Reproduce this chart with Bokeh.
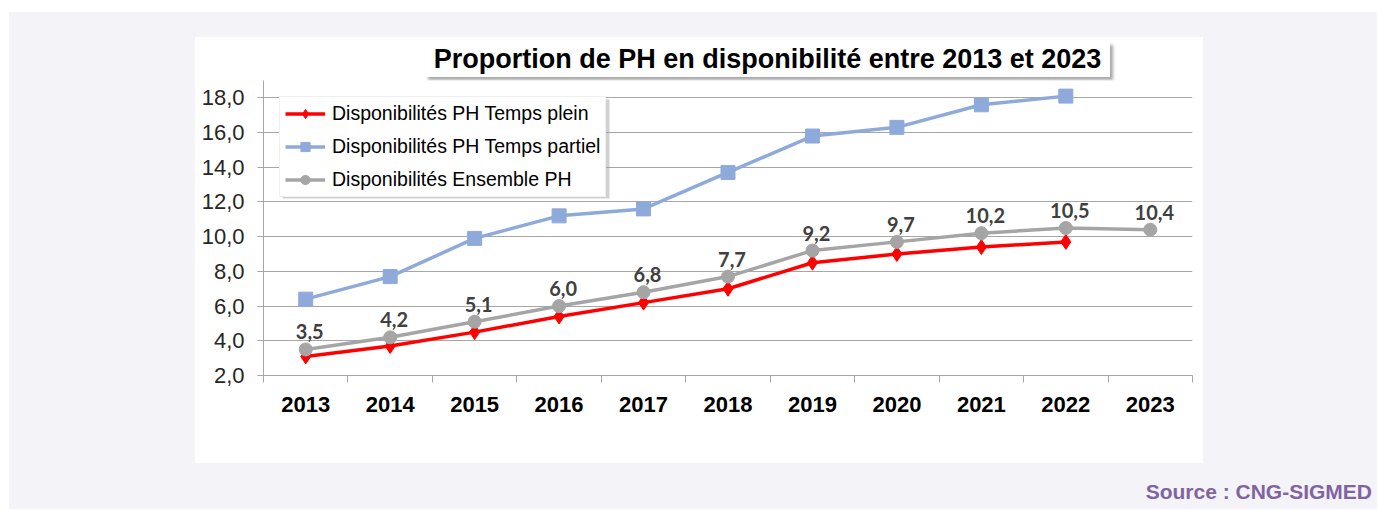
from bokeh.plotting import figure
from bokeh.models import (Range1d, FixedTicker, ColumnDataSource, Legend, LegendItem,
                          LabelSet, Spacer, Div, BoxAnnotation)
from bokeh.layouts import column, row
from bokeh.core.properties import value
from bokeh.embed import file_html
from bokeh.resources import INLINE

NaN = float("nan")

# ---------------- data ----------------
years = [2013, 2014, 2015, 2016, 2017, 2018, 2019, 2020, 2021, 2022, 2023]
temps_plein = [3.1, 3.7, 4.5, 5.4, 6.2, 7.0, 8.5, 9.0, 9.4, 9.7, NaN]
temps_partiel = [6.4, 7.7, 9.9, 11.2, 11.6, 13.7, 15.8, 16.3, 17.6, 18.1, NaN]
ensemble = [3.5, 4.2, 5.1, 6.0, 6.8, 7.7, 9.2, 9.7, 10.2, 10.5, 10.4]
y_ticks = [2, 4, 6, 8, 10, 12, 14, 16, 18]
series_names = ["Disponibilités PH Temps plein",
                "Disponibilités PH Temps partiel",
                "Disponibilités Ensemble PH"]
title_text = "Proportion de PH en disponibilité entre 2013 et 2023"
source_text = "Source : CNG-SIGMED"

# ---------------- styles ----------------
RED = "#ff0000"
BLUE = "#8eaadb"
GREY = "#a5a5a5"
GRID = "#a6a6a6"
PAGE_BG = "#f4f3f8"
FONT = "Liberation Sans"

src = ColumnDataSource(dict(
    year=years,
    plein=temps_plein,
    partiel=temps_partiel,
    ensemble=ensemble,
    label=[f"{v:.1f}".replace(".", ",") for v in ensemble],
))

p = figure(width=1008, height=383,
           x_range=Range1d(years[0] - 0.5, years[-1] + 0.5),
           y_range=Range1d(2, 19),
           output_backend="svg", toolbar_location=None, title=None,
           min_border_left=68, min_border_right=11,
           min_border_top=0, min_border_bottom=88,
           background_fill_color="white", border_fill_color="white",
           outline_line_color=None)

# x axis: labels at categories, ticks between categories
p.xaxis.ticker = FixedTicker(ticks=years,
                             minor_ticks=[y - 0.5 for y in years] + [years[-1] + 0.5])
p.xaxis.major_label_overrides = {y: str(y) for y in years}
p.xaxis.major_tick_line_color = None
p.xaxis.major_tick_out = 0
p.xaxis.major_tick_in = 0
p.xaxis.minor_tick_line_color = GRID
p.xaxis.minor_tick_out = 7
p.xaxis.minor_tick_in = 0
p.xaxis.axis_line_color = GRID
p.xaxis.major_label_text_font = FONT
p.xaxis.major_label_text_font_size = "22px"
p.xaxis.major_label_text_font_style = "bold"
p.xaxis.major_label_text_color = "#000000"
p.xaxis.major_label_standoff = 14

# y axis
p.yaxis.ticker = FixedTicker(ticks=y_ticks)
p.yaxis.major_label_overrides = {v: f"{v:.1f}".replace(".", ",") for v in y_ticks}
p.yaxis.major_tick_out = 6
p.yaxis.major_tick_in = 0
p.yaxis.major_tick_line_color = GRID
p.yaxis.minor_tick_line_color = None
p.yaxis.axis_line_color = GRID
p.yaxis.major_label_text_font = FONT
p.yaxis.major_label_text_font_size = "22px"
p.yaxis.major_label_text_color = "#262626"
p.yaxis.major_label_standoff = 13

p.xgrid.visible = False
p.ygrid.ticker = FixedTicker(ticks=y_ticks)
p.ygrid.grid_line_color = GRID
p.ygrid.grid_line_width = 1

# series
r1l = p.line("year", "plein", source=src, line_color=RED, line_width=3.5)
r1m = p.scatter("year", "plein", source=src, marker="diamond", size=15,
                fill_color=RED, line_color=RED)
r2l = p.line("year", "partiel", source=src, line_color=BLUE, line_width=3.5)
r2m = p.scatter("year", "partiel", source=src, marker="square", size=14,
                fill_color=BLUE, line_color=BLUE)
r3l = p.line("year", "ensemble", source=src, line_color=GREY, line_width=3.5)
r3m = p.scatter("year", "ensemble", source=src, marker="circle", size=13,
                fill_color=GREY, line_color=GREY)

labels = LabelSet(x="year", y="ensemble", text="label", source=src,
                  x_offset=4, y_offset=10, text_align="center",
                  text_baseline="alphabetic",
                  text_font=value("Lato"), text_font_size=value("20px"),
                  text_font_style="bold", text_color="#404040")
p.add_layout(labels)

# soft shadow behind the legend box (canvas pixels)
legend_shadow = BoxAnnotation(left=87, right=414, top=19, bottom=118,
                              left_units="canvas", right_units="canvas",
                              top_units="canvas", bottom_units="canvas",
                              fill_color="#9a9a9a", fill_alpha=0.45,
                              line_color=None)
p.add_layout(legend_shadow)

legend = Legend(items=[
    LegendItem(label=series_names[0], renderers=[r1l, r1m]),
    LegendItem(label=series_names[1], renderers=[r2l, r2m]),
    LegendItem(label=series_names[2], renderers=[r3l, r3m]),
], location="top_left", margin=16, padding=5, spacing=10,
    glyph_width=40, glyph_height=23, label_height=23, label_standoff=7,
    label_text_font=FONT, label_text_font_size="19.5px", label_text_color="#000000",
    border_line_color="#e0e0e0", background_fill_color="white",
    background_fill_alpha=1.0)
p.add_layout(legend)

title_div = Div(
    text=('<div style="width:685px;height:35px;line-height:35px;background:#ffffff;'
          'box-shadow:3px 3px 3px rgba(0,0,0,0.35);'
          'font-family:\'Liberation Sans\',Arial,sans-serif;font-weight:bold;'
          'font-size:27px;color:#000000;text-align:center;white-space:nowrap;">'
          + title_text + '</div>'),
    width=690, height=38, margin=0)

white_panel = column(
    Spacer(width=1008, height=5, margin=0),
    row(Spacer(width=230, height=38, margin=0), title_div, margin=0),
    p,
    styles={"background-color": "#ffffff"},
    margin=0,
)

source_div = Div(
    text=('<div style="font-family: \'Liberation Sans\', Arial, sans-serif; '
          'font-weight: bold; font-size: 21px; line-height: 20px; '
          'color: #8064a2; text-align: right; width: 300px; white-space:nowrap;">'
          + source_text + '</div>'),
    width=300, height=20, margin=0)

root = column(
    Spacer(width=1368, height=25, margin=0),
    row(Spacer(width=186, height=426, margin=0), white_panel, margin=0),
    Spacer(width=1368, height=19, margin=0),
    row(Spacer(width=1063, height=20, margin=0), source_div, margin=0),
    Spacer(width=1368, height=7, margin=0),
    styles={"background-color": PAGE_BG},
    margin=(12, 0, 0, 9),
)

open("out.html", "w").write(file_html(root, INLINE))
